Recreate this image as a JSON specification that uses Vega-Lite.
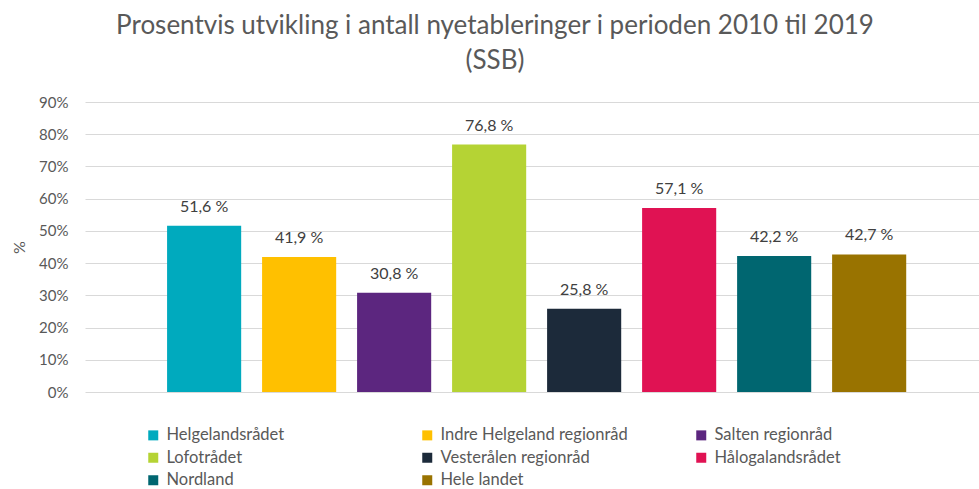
{
  "$schema": "https://vega.github.io/schema/vega-lite/v6.json",
  "width": 894,
  "height": 290,
  "autosize": {"type": "none"},
  "padding": {"left": 85, "top": 102, "right": 0, "bottom": 97},
  "background": "white",
  "config": {"font": "Lato", "view": {"stroke": null}},
  "title": {
    "text": ["Prosentvis utvikling i antall nyetableringer i perioden 2010 til 2019", "(SSB)"],
    "fontSize": 26,
    "fontWeight": "normal",
    "color": "#595959",
    "anchor": "middle",
    "dx": -37,
    "lineHeight": 35,
    "offset": 21
  },
  "data": {
    "values": [
      {"region": "Helgelandsrådet", "value": 51.6, "label": "51,6 %"},
      {"region": "Indre Helgeland regionråd", "value": 41.9, "label": "41,9 %"},
      {"region": "Salten regionråd", "value": 30.8, "label": "30,8 %"},
      {"region": "Lofotrådet", "value": 76.8, "label": "76,8 %"},
      {"region": "Vesterålen regionråd", "value": 25.8, "label": "25,8 %"},
      {"region": "Hålogalandsrådet", "value": 57.1, "label": "57,1 %"},
      {"region": "Nordland", "value": 42.2, "label": "42,2 %"},
      {"region": "Hele landet", "value": 42.7, "label": "42,7 %"}
    ]
  },
  "encoding": {
    "x": {
      "field": "region",
      "type": "nominal",
      "sort": null,
      "axis": null,
      "scale": {"paddingInner": 0.22, "paddingOuter": 0.815, "align": 0.53}
    },
    "y": {
      "field": "value",
      "type": "quantitative",
      "scale": {"domain": [0, 90], "nice": false},
      "axis": {
        "title": "%",
        "values": [0, 10, 20, 30, 40, 50, 60, 70, 80, 90],
        "labelExpr": "datum.value + '%'",
        "labelFontSize": 15,
        "labelColor": "#595959",
        "labelPadding": 17,
        "titleFontSize": 16,
        "titleFontWeight": "normal",
        "titleColor": "#595959",
        "titlePadding": 11,
        "domain": false,
        "ticks": false,
        "gridColor": "#d9d9d9",
        "gridWidth": 1
      }
    }
  },
  "layer": [
    {
      "mark": {"type": "bar"},
      "encoding": {
        "color": {
          "field": "region",
          "type": "nominal",
          "scale": {
            "domain": ["Helgelandsrådet", "Indre Helgeland regionråd", "Salten regionråd", "Lofotrådet", "Vesterålen regionråd", "Hålogalandsrådet", "Nordland", "Hele landet"],
            "range": ["#00AABE", "#FFC000", "#5C267F", "#B5D334", "#1C2A3A", "#E01253", "#006670", "#997300"]
          },
          "legend": {
            "title": null,
            "orient": "none",
            "direction": "horizontal",
            "legendX": 60,
            "legendY": 325,
            "columns": 3,
            "gridAlign": "all",
            "columnPadding": 65,
            "rowPadding": 5.5,
            "symbolType": "square",
            "symbolSize": 100,
            "symbolStrokeWidth": 0,
            "symbolOffset": 0,
            "labelOffset": 5,
            "labelFontSize": 16.5,
            "labelColor": "#595959",
            "labelLimit": 300
          }
        }
      }
    },
    {
      "mark": {"type": "text", "baseline": "alphabetic", "dy": -14, "fontSize": 16, "color": "#404040"},
      "encoding": {"text": {"field": "label"}}
    }
  ]
}
